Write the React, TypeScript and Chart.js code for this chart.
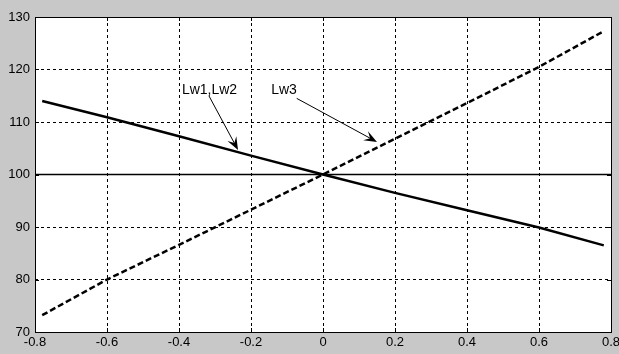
import React, { useEffect, useRef } from 'react';
import { Chart, registerables } from 'chart.js';

Chart.register(...registerables);

// ---- data ----
const xValues = [-0.78, -0.6, -0.4, -0.2, 0, 0.2, 0.4, 0.6, 0.78];
const lw12Values = [114.0, 110.9, 107.3, 103.6, 100.0, 96.5, 93.2, 89.9, 86.5];
const lw3Values = [73.2, 80.0, 86.6, 93.3, 100.0, 106.8, 113.6, 120.5, 127.3];
const refX = [-0.8, 0.8];
const refValues = [100, 100];
const xTickLabels = ['-0.8', '-0.6', '-0.4', '-0.2', '0', '0.2', '0.4', '0.6', '0.8'];
const yTickLabels = ['70', '80', '90', '100', '110', '120', '130'];
const annotationTexts = ['Lw1,Lw2', 'Lw3'];

// annotation anchors in data coordinates
const annotations = [
  { text: annotationTexts[0], tx: -0.392, ty: 115.33, fromX: -0.317, fromY: 115.0, toX: -0.236, toY: 104.67 },
  { text: annotationTexts[1], tx: -0.144, ty: 115.33, fromX: -0.073, fromY: 114.5, toX: 0.15, toY: 106.2 },
];

const FONT = '"Liberation Sans", Arial, Helvetica, sans-serif';

function drawArrow(ctx: CanvasRenderingContext2D, x1: number, y1: number, x2: number, y2: number) {
  const ang = Math.atan2(y2 - y1, x2 - x1);
  const dx = Math.cos(ang), dy = Math.sin(ang);
  const px = -dy, py = dx;
  const L = 13, W = 5;
  ctx.save();
  ctx.strokeStyle = '#000';
  ctx.fillStyle = '#000';
  ctx.lineWidth = 1;
  ctx.beginPath();
  ctx.moveTo(x1, y1);
  ctx.lineTo(x2 - dx * L * 0.6, y2 - dy * L * 0.6);
  ctx.stroke();
  ctx.beginPath();
  ctx.moveTo(x2, y2);
  ctx.lineTo(x2 - dx * L + px * W, y2 - dy * L + py * W);
  ctx.lineTo(x2 - dx * L * 0.6, y2 - dy * L * 0.6);
  ctx.lineTo(x2 - dx * L - px * W, y2 - dy * L - py * W);
  ctx.closePath();
  ctx.fill();
  ctx.restore();
}

const framePlugin = {
  id: 'frame',
  beforeDraw(chart: any) {
    const { ctx, chartArea: a } = chart;
    ctx.save();
    ctx.fillStyle = '#ffffff';
    ctx.fillRect(a.left, a.top, a.right - a.left, a.bottom - a.top);
    ctx.restore();
  },
  afterDraw(chart: any) {
    const { ctx, chartArea: a, scales } = chart;
    const xs = scales.x, ys = scales.y;
    ctx.save();
    // inward ticks
    ctx.strokeStyle = '#000';
    ctx.lineWidth = 1;
    const tl = 4;
    ctx.beginPath();
    xs.ticks.forEach((t: any) => {
      const x = Math.round(xs.getPixelForValue(t.value)) + 0.5;
      ctx.moveTo(x, a.bottom);
      ctx.lineTo(x, a.bottom - tl);
      ctx.moveTo(x, a.top);
      ctx.lineTo(x, a.top + tl);
    });
    ys.ticks.forEach((t: any) => {
      const y = Math.round(ys.getPixelForValue(t.value)) + 0.5;
      ctx.moveTo(a.left, y);
      ctx.lineTo(a.left + tl, y);
      ctx.moveTo(a.right, y);
      ctx.lineTo(a.right - tl, y);
    });
    ctx.stroke();
    // box
    ctx.strokeRect(Math.round(a.left) + 0.5, Math.round(a.top) + 0.5, Math.round(a.right - a.left), Math.round(a.bottom - a.top));
    // annotations
    ctx.font = `14px ${FONT}`;
    ctx.fillStyle = '#000';
    ctx.textBaseline = 'alphabetic';
    ctx.textAlign = 'left';
    annotations.forEach((an) => {
      ctx.fillText(an.text, xs.getPixelForValue(an.tx), ys.getPixelForValue(an.ty));
      drawArrow(
        ctx,
        xs.getPixelForValue(an.fromX), ys.getPixelForValue(an.fromY),
        xs.getPixelForValue(an.toX), ys.getPixelForValue(an.toY)
      );
    });
    ctx.restore();
  },
};

export default function App() {
  const ref = useRef<HTMLCanvasElement | null>(null);

  useEffect(() => {
    document.body.style.margin = '0';
    const canvas = ref.current;
    if (!canvas) return;
    const chart = new Chart(canvas, {
      type: 'scatter',
      data: {
        datasets: [
          {
            data: refX.map((x, i) => ({ x, y: refValues[i] })),
            showLine: true,
            borderColor: '#000',
            borderWidth: 1.5,
            pointRadius: 0,
          },
          {
            data: xValues.map((x, i) => ({ x, y: lw12Values[i] })),
            showLine: true,
            borderColor: '#000',
            borderWidth: 2.5,
            pointRadius: 0,
          },
          {
            data: xValues.map((x, i) => ({ x, y: lw3Values[i] })),
            showLine: true,
            borderColor: '#000',
            borderWidth: 2.5,
            borderDash: [6, 3],
            pointRadius: 0,
          },
        ],
      },
      options: {
        animation: false,
        responsive: false,
        maintainAspectRatio: false,
        layout: { padding: { top: 17, right: 8, left: 0, bottom: 0 } },
        plugins: { legend: { display: false }, tooltip: { enabled: false } },
        scales: {
          x: {
            type: 'linear',
            min: -0.8,
            max: 0.8,
            ticks: {
              stepSize: 0.2,
              autoSkip: false,
              maxRotation: 0,
              callback: (_v: any, i: number) => xTickLabels[i],
              color: '#000',
              font: { family: FONT, size: 13 },
              padding: 3,
            },
            grid: { color: '#000', lineWidth: 1, drawTicks: false },
            border: { display: false, dash: [3, 3] },
            afterFit: (s: any) => {
              s.height = 22;
              s.paddingLeft = 0;
              s.paddingRight = 0;
            },
          },
          y: {
            type: 'linear',
            min: 70,
            max: 130,
            ticks: {
              stepSize: 10,
              autoSkip: false,
              callback: (_v: any, i: number) => yTickLabels[i],
              color: '#000',
              font: { family: FONT, size: 13 },
              padding: 5,
            },
            grid: { color: '#000', lineWidth: 1, drawTicks: false },
            border: { display: false, dash: [3, 3] },
            afterFit: (s: any) => {
              s.width = 35;
              s.paddingTop = 0;
              s.paddingBottom = 0;
            },
          },
        },
      },
      plugins: [framePlugin],
    } as any);
    return () => chart.destroy();
  }, []);

  return (
    <canvas
      ref={ref}
      width={619}
      height={354}
      style={{ display: 'block', width: 619, height: 354, backgroundColor: '#c8c8c8' }}
    />
  );
}
